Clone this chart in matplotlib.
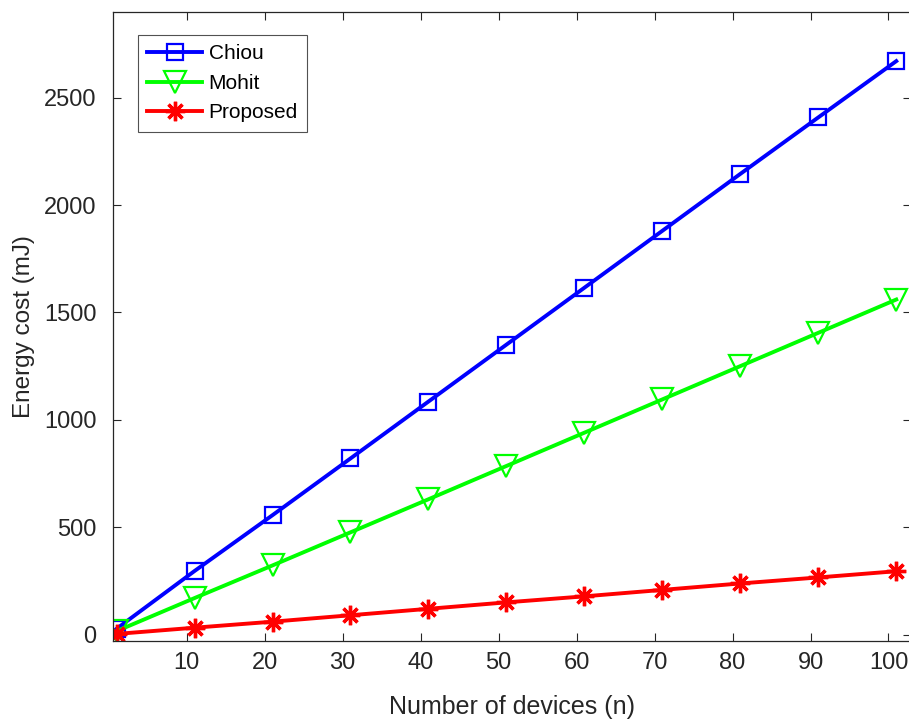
import matplotlib.pyplot as plt

plt.rcParams['font.family'] = ['Liberation Sans', 'DejaVu Sans']

devices = [1, 11, 21, 31, 41, 51, 61, 71, 81, 91, 101]
chiou = [27, 296, 556, 820, 1085, 1350, 1615, 1880, 2145, 2408, 2670]
mohit = [16, 170, 322, 476, 630, 785, 940, 1095, 1250, 1405, 1560]
proposed = [3, 32, 60, 90, 120, 150, 178, 208, 238, 266, 295]

fig = plt.figure(figsize=(9.09, 7.2), dpi=100)
ax = fig.add_axes([0.1243, 0.1097, 0.878, 0.874])

ax.plot(devices, chiou, color='#0000ff', lw=2.8, marker='s', ms=12,
        mfc='none', mew=1.6, label='Chiou')
ax.plot(devices, mohit, color='#00ff00', lw=2.8, marker='v', ms=16,
        mfc='none', mew=1.6, label='Mohit')
ax.plot(devices, proposed, color='#ff0000', lw=2.8, marker=(8, 2, 0), ms=14,
        mew=2.4, label='Proposed')

ax.set_xlim(0.54, 102.9)
ax.set_ylim(-30, 2900)
ax.set_xticks(range(10, 101, 10))
ax.set_yticks(range(0, 2501, 500))
ax.tick_params(direction='in', top=True, right=True, labelsize=17,
               colors='#262626', length=6, width=0.8)
ax.tick_params(axis='x', pad=8)
ax.tick_params(axis='y', pad=12)
for s in ax.spines.values():
    s.set_color('#262626')
    s.set_linewidth(0.9)

ax.set_xlabel('Number of devices (n)', fontsize=18, color='#262626', labelpad=15)
ax.set_ylabel('Energy cost (mJ)', fontsize=17.5, color='#262626', labelpad=6)

leg = ax.legend(loc='upper left', bbox_to_anchor=(0.031, 0.963), fontsize=15,
                frameon=True, fancybox=False, edgecolor='#262626',
                handlelength=2.65, handletextpad=0.3, borderpad=0.45,
                labelspacing=0.5, borderaxespad=0)
leg.get_frame().set_linewidth(0.8)

fig.savefig('out.png', dpi=100)
